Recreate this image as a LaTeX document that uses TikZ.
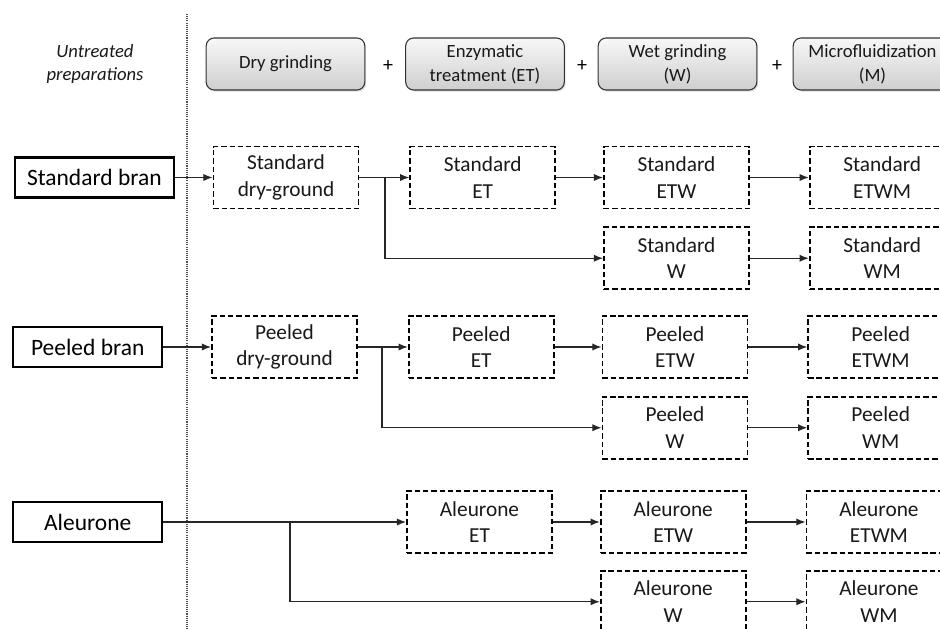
\documentclass[tikz,border=0pt]{standalone}
\usepackage{fontspec}
\setmainfont{Carlito}
\usepackage{tikz}
\usetikzlibrary{positioning}
\usetikzlibrary{arrows.meta}
\usetikzlibrary{shadows}

\begin{document}
\begin{tikzpicture}[
                x=0.75pt, y=-0.75pt,
                >={Latex[length=7pt,width=5.5pt]},
                line/.style={draw=black!85, line width=1pt},
                stepnode/.style={rectangle, rounded corners=6pt, draw=black!80, line width=0.8pt, top color=gray!6, bottom color=gray!38, minimum width=119pt, minimum height=39pt, align=center, font=\fontsize{14}{18}\selectfont, text=black!90, drop shadow={shadow xshift=1pt, shadow yshift=-1.2pt, opacity=0.25}},
                rawnode/.style={rectangle, draw, line width=1.6pt, minimum width=112pt, minimum height=30pt, inner xsep=9pt, font=\fontsize{17.6}{20}\selectfont, text=black},
                prepnode/.style={rectangle, draw=black, dash pattern=on 4pt off 2.2pt, line width=1.3pt, minimum width=108.75pt, minimum height=46.5pt, align=center, font=\fontsize{16}{20}\selectfont, text=black!90},
            ]
            \clip (0,0) rectangle (940,629);
            \fill[white] (0,0) rectangle (940,629);

            % Header
            \node[align=center, font=\fontsize{14}{17.5}\selectfont\itshape, text=black!90] (untreated) at (95,64) {Untreated\\preparations};
            \node[stepnode]     (dry_grinding)      at (285.5,64)   {Dry grinding};
            \node[stepnode]     (enzymatic)         at (485,64)     {Enzymatic\\treatment (ET)};
            \node[stepnode]     (wet_grinding)      at (677.5,64)   {Wet grinding\\(W)};
            \node[stepnode]     (microfluid)        at (872.5,64)   {Microfluidization\\(M)};
            \node[font=\fontsize{15}{18}\selectfont] (plus_1) at (388,66) {+};
            \node[font=\fontsize{15}{18}\selectfont] (plus_2) at (582,66) {+};
            \node[font=\fontsize{15}{18}\selectfont] (plus_3) at (777,66) {+};

            \coordinate (sep_top) at (187,14);
            \coordinate (sep_bottom) at (187,629);
            \draw[black!70, line width=0.8pt, dash pattern=on 0.8pt off 0.8pt] (sep_top) -- (sep_bottom);

            % Nodes
            \node[rawnode, anchor=west]     (standard_bran)     at (14,177.5)      {Standard bran};
            \node[prepnode]     (standard_dry)      at (286,177.5)      {Standard\\dry-ground};
            \node[prepnode]     (standard_ET)       [right=37.5pt of standard_dry]    {Standard\\ET};
            \node[prepnode]     (standard_ETW)      [right=35.25pt of standard_ET]    {Standard\\ETW};
            \node[prepnode]     (standard_ETWM)     [right=44.25pt of standard_ETW]   {Standard\\ETWM};
            \node[prepnode]     (standard_W)        [below=12.75pt of standard_ETW]   {Standard\\W};
            \node[prepnode]     (standard_WM)       [below=12.75pt of standard_ETWM]  {Standard\\WM};

            \node[rawnode, anchor=west]     (peeled_bran)       at (12,347)        {Peeled bran};
            \node[prepnode]     (peeled_dry)        at (284.5,347)      {Peeled\\dry-ground};
            \node[prepnode]     (peeled_ET)         [right=37.5pt of peeled_dry]      {Peeled\\ET};
            \node[prepnode]     (peeled_ETW)        [right=35.25pt of peeled_ET]      {Peeled\\ETW};
            \node[prepnode]     (peeled_ETWM)       [right=44.25pt of peeled_ETW]     {Peeled\\ETWM};
            \node[prepnode]     (peeled_W)          [below=12.75pt of peeled_ETW]     {Peeled\\W};
            \node[prepnode]     (peeled_WM)         [below=12.75pt of peeled_ETWM]    {Peeled\\WM};

            \node[rawnode, anchor=west]     (aleurone)          at (12,522)        {Aleurone};
            \node[prepnode]     (aleurone_ET)       at (479.5,522)      {Aleurone\\ET};
            \node[prepnode]     (aleurone_ETW)      [right=35.25pt of aleurone_ET]    {Aleurone\\ETW};
            \node[prepnode]     (aleurone_ETWM)     [right=44.25pt of aleurone_ETW]   {Aleurone\\ETWM};
            \node[prepnode]     (aleurone_W)        [below=12pt of aleurone_ETW]      {Aleurone\\W};
            \node[prepnode]     (aleurone_WM)       [below=12pt of aleurone_ETWM]     {Aleurone\\WM};

            \coordinate (standard_split) at (385,177.5);
            \coordinate (peeled_split) at (382,347);
            \coordinate (aleurone_split) at (290,522);

            %Lines
            \draw[line, ->] (standard_bran) -- (standard_dry);
            \draw[line, ->] (standard_dry) -- (standard_ET);
            \draw[line, ->] (standard_split) |- (standard_W);
            \draw[line, ->] (standard_ET) -- (standard_ETW);
            \draw[line, ->] (standard_ETW) -- (standard_ETWM);
            \draw[line, ->] (standard_W) -- (standard_WM);

            \draw[line, ->] (peeled_bran) -- (peeled_dry);
            \draw[line, ->] (peeled_dry) -- (peeled_ET);
            \draw[line, ->] (peeled_split) |- (peeled_W);
            \draw[line, ->] (peeled_ET) -- (peeled_ETW);
            \draw[line, ->] (peeled_ETW) -- (peeled_ETWM);
            \draw[line, ->] (peeled_W) -- (peeled_WM);

            \draw[line, ->] (aleurone) -- (aleurone_ET);
            \draw[line, ->] (aleurone_split) |- (aleurone_W);
            \draw[line, ->] (aleurone_ET) -- (aleurone_ETW);
            \draw[line, ->] (aleurone_ETW) -- (aleurone_ETWM);
            \draw[line, ->] (aleurone_W) -- (aleurone_WM);
        \end{tikzpicture}
\end{document}
